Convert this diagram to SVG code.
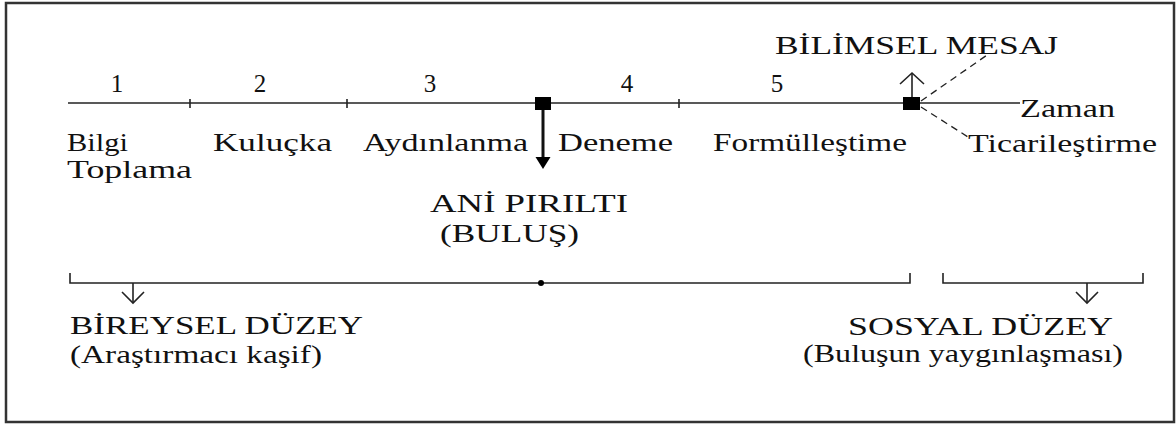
<svg xmlns="http://www.w3.org/2000/svg" width="1176" height="425" viewBox="0 0 1176 425">
<style>
text{font-family:"Liberation Serif","Times New Roman",serif;font-size:25px;fill:#111}
.ln{stroke:#222;stroke-width:1.6;fill:none}
.th{stroke:#111;stroke-width:3;fill:none}
.ds{stroke:#222;stroke-width:1.3;fill:none;stroke-dasharray:7 5}
.sq{fill:#000}
</style>
<rect x="6" y="3" width="1168" height="419" fill="#fff" stroke="#333" stroke-width="2.5"/>
<g id="connectors">
<line class="ln" x1="68" y1="103" x2="1020" y2="103"/>
<line class="ln" x1="190" y1="99" x2="190" y2="108"/>
<line class="ln" x1="347" y1="99" x2="347" y2="108"/>
<line class="ln" x1="679" y1="99" x2="679" y2="108"/>
<line class="th" x1="543" y1="108" x2="543" y2="158"/>
<polygon class="sq" points="535.5,157 550.5,157 543,169"/>
<line class="ln" x1="912" y1="98" x2="912" y2="74"/>
<polyline class="ln" points="900,84 912,73 924,84"/>
<line class="ds" x1="921" y1="101" x2="990" y2="53"/>
<line class="ds" x1="921" y1="107" x2="968" y2="137"/>
<polyline class="ln" points="70,273 70,283 910,283 910,273"/>
<circle cx="541" cy="283" r="3" fill="#000"/>
<line class="ln" x1="133" y1="283" x2="133" y2="303"/>
<polyline class="ln" points="122,292 133,303 144,292"/>
<polyline class="ln" points="943,273 943,283 1143,283 1143,273"/>
<line class="ln" x1="1087" y1="283" x2="1087" y2="303"/>
<polyline class="ln" points="1076,292 1087,303 1098,292"/>
</g>
<g id="n-markers">
<rect class="sq" x="535" y="97" width="16" height="13"/>
<rect class="sq" x="903" y="97" width="17" height="13"/>
</g>
<g id="n-numbers">
<text x="117" y="92" text-anchor="middle">1</text>
<text x="260" y="92" text-anchor="middle">2</text>
<text x="430" y="92" text-anchor="middle">3</text>
<text x="627" y="92" text-anchor="middle">4</text>
<text x="777" y="92" text-anchor="middle">5</text>
</g>
<g id="n-bilgi"><text x="67" y="151" textLength="61" lengthAdjust="spacingAndGlyphs">Bilgi</text>
<text x="67" y="178" textLength="125" lengthAdjust="spacingAndGlyphs">Toplama</text></g>
<g id="n-kulucka"><text x="213" y="151" textLength="119" lengthAdjust="spacingAndGlyphs">Kuluçka</text></g>
<g id="n-aydinlanma"><text x="363" y="151" textLength="165" lengthAdjust="spacingAndGlyphs">Aydınlanma</text></g>
<g id="n-deneme"><text x="558" y="151" textLength="115" lengthAdjust="spacingAndGlyphs">Deneme</text></g>
<g id="n-formul"><text x="713" y="151" textLength="194" lengthAdjust="spacingAndGlyphs">Formülleştime</text></g>
<g id="n-ticari"><text x="968" y="152" textLength="189" lengthAdjust="spacingAndGlyphs">Ticarileştirme</text></g>
<g id="n-zaman"><text x="1020" y="117" textLength="95" lengthAdjust="spacingAndGlyphs">Zaman</text></g>
<g id="n-bilimsel"><text x="775" y="54" textLength="283" lengthAdjust="spacingAndGlyphs">BİLİMSEL MESAJ</text></g>
<g id="n-ani"><text x="430" y="212" textLength="198" lengthAdjust="spacingAndGlyphs">ANİ PIRILTI</text>
<text x="440" y="242" textLength="139" lengthAdjust="spacingAndGlyphs">(BULUŞ)</text></g>
<g id="n-bireysel"><text x="70" y="334" textLength="293" lengthAdjust="spacingAndGlyphs">BİREYSEL DÜZEY</text>
<text x="70" y="363" textLength="252" lengthAdjust="spacingAndGlyphs">(Araştırmacı kaşif)</text></g>
<g id="n-sosyal"><text x="848" y="335" textLength="265" lengthAdjust="spacingAndGlyphs">SOSYAL DÜZEY</text>
<text x="803" y="362" textLength="320" lengthAdjust="spacingAndGlyphs">(Buluşun yaygınlaşması)</text></g>
</svg>
